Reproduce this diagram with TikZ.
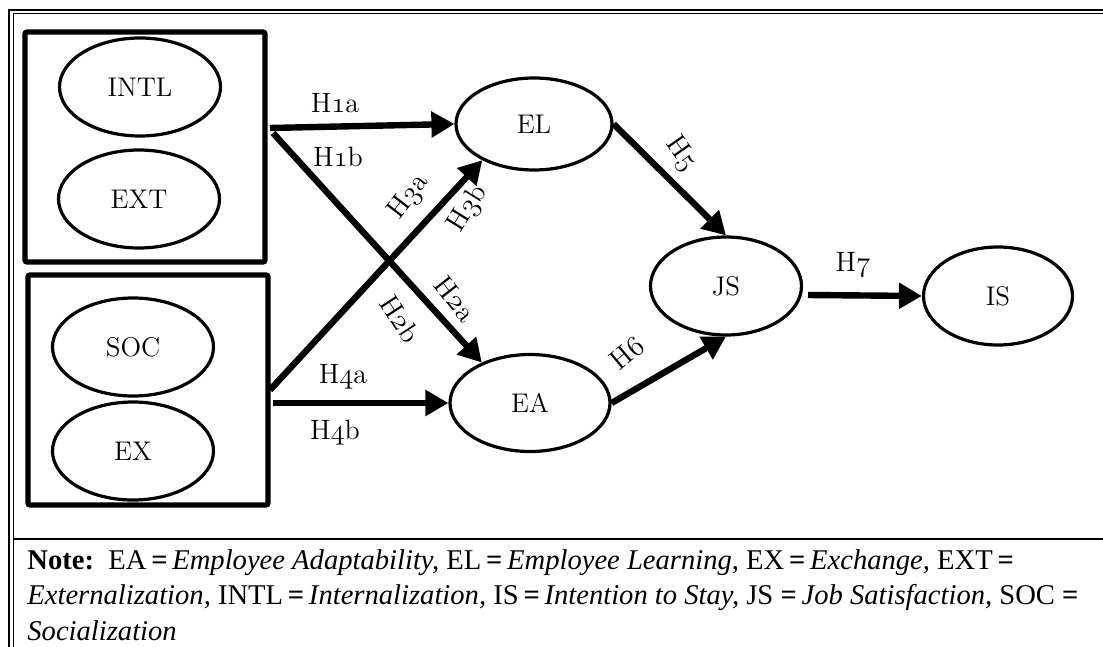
\documentclass[tikz,border=0pt]{standalone}
\usepackage{fontspec}
\usepackage{tikz}
\usetikzlibrary{arrows.meta}
\usetikzlibrary{shapes.geometric}
\newfontfamily\notefont{Liberation Serif}
\newcommand\hnum[1]{$\mathnormal{#1}$}

\begin{document}
\begin{tikzpicture}[x=0.5pt,y=-0.5pt,
            construct/.style={draw,ellipse,line width=1.6pt,inner sep=0pt,
                minimum width=80.5pt,minimum height=49pt,font=\fontsize{13.5}{13.5}\selectfont},
            groupbox/.style={draw,line width=2.6pt,rounded corners=1pt,inner sep=0pt,
                minimum width=120pt,minimum height=115pt},
            hyparrow/.style={line width=3.2pt,-{Triangle[length=11.5pt,width=12.5pt]}},
            hyp/.style={inner sep=0pt,font=\fontsize{14}{14}\selectfont}]
            \useasboundingbox (0,0) rectangle (1103,647);
            % frame
            \draw[line width=0.75pt] (9,660) -- (9,10) -- (1110,10);
            \draw[line width=0.5pt] (13,660) -- (13,14) -- (1110,14);
            \draw[line width=1pt] (13,539) -- (1110,539);
            % knowledge groups
            \node[groupbox] (grpA) at (145,147) {};
            \node[groupbox] (grpB) at (148,390) {};
            \node[construct] (intl) at (140,87) {INTL};
            \node[construct] (ext) at (139,199) {EXT};
            \node[construct] (soc) at (133,347) {SOC};
            \node[construct] (ex) at (133,451) {EX};
            % mediators and outcomes
            \node[construct,minimum width=78pt,minimum height=46pt] (el) at (534,124) {EL};
            \node[construct,minimum width=80pt,minimum height=48.5pt] (ea) at (530,403) {EA};
            \node[construct,minimum width=75.5pt] (js) at (726,286) {JS};
            \node[construct,minimum width=74.5pt] (is) at (998,296) {IS};
            \coordinate (fromA1) at (270,128);
            \coordinate (fromA2) at (273,133);
            \coordinate (fromB1) at (270,390);
            \coordinate (fromB2) at (273,403);
            \coordinate (fromJS) at (808,295);
            \draw[hyparrow] (fromA1) -- (el.west);
            \draw[hyparrow] (fromA2) -- (ea.140);
            \draw[hyparrow] (fromB1) -- (el.215);
            \draw[hyparrow] (fromB2) -- (ea.west);
            \draw[hyparrow] (el.east) -- (js.north);
            \draw[hyparrow] (ea.east) -- (js.south);
            \draw[hyparrow] (fromJS) -- (is.west);
            % hypotheses
            \node[hyp] (h1a) at (335,103) {H\hnum{1}a};
            \node[hyp] (h1b) at (338,157) {H\hnum{1}b};
            \node[hyp,rotate=52] (h3a) at (409,197) {H\hnum{3}a};
            \node[hyp,rotate=58] (h3b) at (468,209) {H\hnum{3}b};
            \node[hyp,rotate=-52] (h2a) at (455,299) {H\hnum{2}a};
            \node[hyp,rotate=-57] (h2b) at (400,319) {H\hnum{2}b};
            \node[hyp] (h4a) at (343,377) {H\hnum{4}a};
            \node[hyp] (h4b) at (335,433) {H\hnum{4}b};
            \node[hyp,rotate=-55] (h5) at (681,154) {H\hnum{5}};
            \node[hyp,rotate=40] (h6) at (627,353) {H\hnum{6}};
            \node[hyp] (h7) at (853,265) {H\hnum{7}};
            % note
            \node[anchor=north west,align=left,inner sep=0pt,
                font=\notefont\fontsize{14.3}{17.8}\selectfont] (note) at (27,549)
                {\textbf{Note:}\ \ EA\,\textbf{=}\,\textit{Employee Adaptability,} EL\,\textbf{=}\,\textit{Employee Learning,} EX\,\textbf{=}\,\textit{Exchange,} EXT\,\textbf{=}\\
                \textit{Externalization,} INTL\,\textbf{=}\,\textit{Internalization,} IS\,\textbf{=}\,\textit{Intention to Stay,} JS \textbf{=}\,\textit{Job Satisfaction,} SOC \textbf{=}\\
                \textit{Socialization}};
        \end{tikzpicture}
\end{document}
